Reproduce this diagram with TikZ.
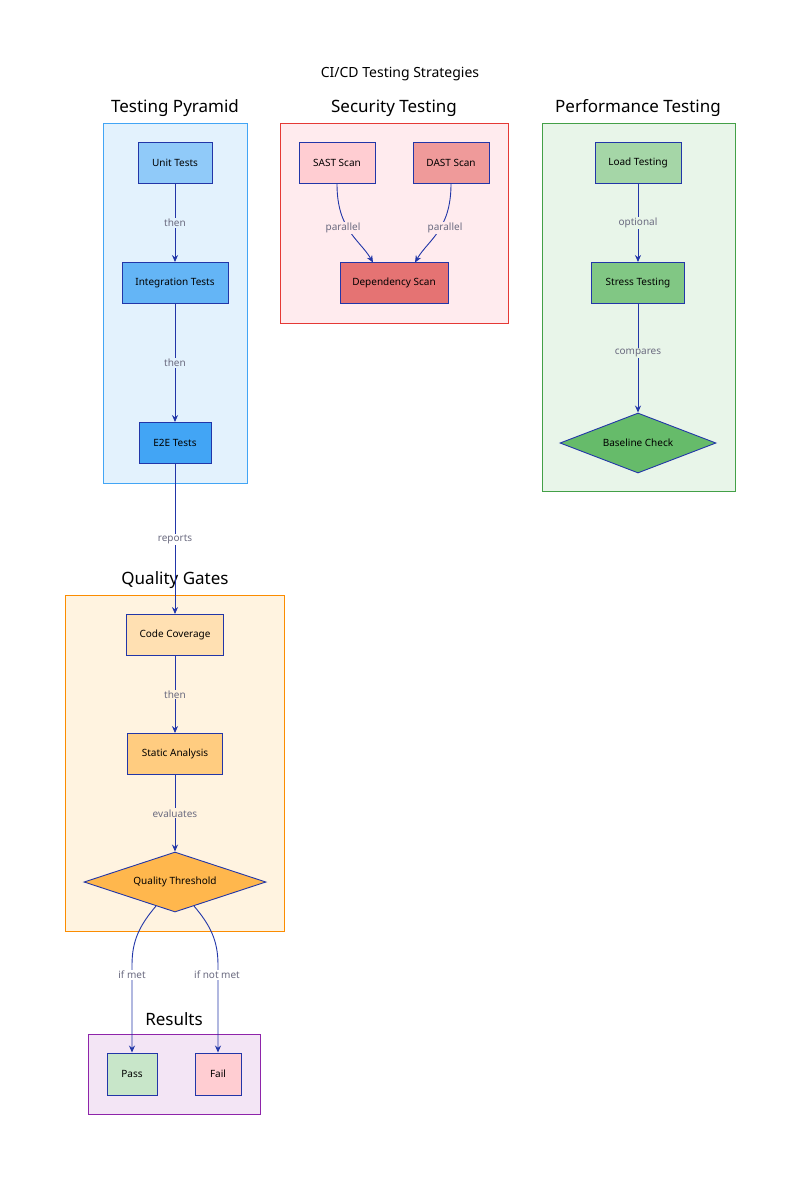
\documentclass[tikz,border=0pt]{standalone}
\usepackage{fontspec}
\setmainfont{Noto Sans}
\usetikzlibrary{shapes.geometric,arrows.meta}
\definecolor{edge}{HTML}{2236A8}
\definecolor{lbl}{HTML}{6B6B80}
\tikzset{
 x=1pt,y=-1pt,
 box/.style={draw=edge,line width=0.9pt,minimum height=41pt,inner sep=0pt,font=\fontsize{10}{12}\selectfont},
 dia/.style={draw=edge,line width=0.9pt,diamond,aspect=3,inner sep=0pt,font=\fontsize{10}{12}\selectfont},
 clu/.style={line width=0.9pt},
 ctitle/.style={font=\fontsize{17}{20}\selectfont},
 conn/.style={draw=edge,line width=0.9pt,-{Stealth[length=7pt,width=6pt]}},
 elab/.style={text=lbl,font=\fontsize{10}{12}\selectfont,inner sep=1pt},
}
\begin{document}
\begin{tikzpicture}
\useasboundingbox[fill=white] (0,0) rectangle (800,1179);
\node[font=\fontsize{14}{16}\selectfont] (title) at (400,74) {CI/CD Testing Strategies};
% clusters
\draw[clu,fill={rgb,255:red,227;green,242;blue,253},draw={rgb,255:red,66;green,165;blue,245}] (103,123) rectangle (247,483);
\node[ctitle] (t1) at (175,108) {Testing Pyramid};
\draw[clu,fill={rgb,255:red,255;green,235;blue,238},draw={rgb,255:red,229;green,57;blue,53}] (280,123) rectangle (508,323);
\node[ctitle] (t2) at (394,108) {Security Testing};
\draw[clu,fill={rgb,255:red,232;green,245;blue,233},draw={rgb,255:red,67;green,160;blue,71}] (542,123) rectangle (735,491);
\node[ctitle] (t3) at (638,108) {Performance Testing};
\draw[clu,fill={rgb,255:red,255;green,243;blue,224},draw={rgb,255:red,251;green,140;blue,0}] (65,595) rectangle (284,931);
\node[ctitle] (t4) at (175,580) {Quality Gates};
\draw[clu,fill={rgb,255:red,243;green,229;blue,245},draw={rgb,255:red,142;green,36;blue,170}] (88,1034) rectangle (260,1114);
\node[ctitle] (t5) at (174,1019) {Results};
% nodes
\node[box,fill={rgb,255:red,144;green,202;blue,249},minimum width=74pt] (unit) at (175,163) {Unit Tests};
\node[box,fill={rgb,255:red,100;green,181;blue,246},minimum width=106pt] (integ) at (175,283) {Integration Tests};
\node[box,fill={rgb,255:red,66;green,165;blue,245},minimum width=72pt] (e2e) at (175,443) {E2E Tests};
\node[box,fill={rgb,255:red,255;green,205;blue,210},minimum width=76pt] (sast) at (337,163) {SAST Scan};
\node[box,fill={rgb,255:red,239;green,154;blue,154},minimum width=76pt] (dast) at (451,163) {DAST Scan};
\node[box,fill={rgb,255:red,229;green,115;blue,115},minimum width=108pt] (dep) at (394,283) {Dependency Scan};
\node[box,fill={rgb,255:red,165;green,214;blue,167},minimum width=86pt] (load) at (638,163) {Load Testing};
\node[box,fill={rgb,255:red,129;green,199;blue,132},minimum width=93pt] (stress) at (638,283) {Stress Testing};
\node[dia,fill={rgb,255:red,102;green,187;blue,106},minimum width=156pt,minimum height=60pt] (base) at (638,443) {Baseline Check};
\node[box,fill={rgb,255:red,255;green,224;blue,178},minimum width=97pt] (cov) at (175,635) {Code Coverage};
\node[box,fill={rgb,255:red,255;green,204;blue,128},minimum width=95pt] (stat) at (175,754) {Static Analysis};
\node[dia,fill={rgb,255:red,255;green,183;blue,77},minimum width=182pt,minimum height=60pt] (qt) at (175,882) {Quality Threshold};
\node[box,fill={rgb,255:red,200;green,230;blue,201},minimum width=50pt,minimum height=42pt] (pass) at (132,1074) {Pass};
\node[box,fill={rgb,255:red,255;green,205;blue,210},minimum width=46pt,minimum height=42pt] (fail) at (218,1074) {Fail};
% edges
\draw[conn] (unit) -- (integ) node[elab,midway,fill={rgb,255:red,227;green,242;blue,253}] {then};
\draw[conn] (integ) -- (e2e) node[elab,midway,fill={rgb,255:red,227;green,242;blue,253}] {then};
\draw[conn] (e2e) -- (cov) node[elab,pos=0.5,fill=white] {reports};
\draw[conn] (sast.south) .. controls (337,230) and (360,240) .. (373,262.5);
\node[elab,fill={rgb,255:red,255;green,235;blue,238}] (lp1) at (343,228) {parallel};
\draw[conn] (dast.south) .. controls (451,230) and (428,240) .. (415,262.5);
\node[elab,fill={rgb,255:red,255;green,235;blue,238}] (lp2) at (445,228) {parallel};
\draw[conn] (load) -- (stress) node[elab,midway,fill={rgb,255:red,232;green,245;blue,233}] {optional};
\draw[conn] (stress) -- (base) node[elab,pos=0.45,fill={rgb,255:red,232;green,245;blue,233}] {compares};
\draw[conn] (cov) -- (stat) node[elab,midway,fill={rgb,255:red,255;green,243;blue,224}] {then};
\draw[conn] (stat) -- (qt) node[elab,pos=0.5,fill={rgb,255:red,255;green,243;blue,224}] {evaluates};
\draw[conn] (156,906) .. controls (140,925) and (132,940) .. (132,965) -- (pass.north);
\node[elab,fill=white] (lm) at (132,975) {if met};
\draw[conn] (194,906) .. controls (210,925) and (218,940) .. (218,965) -- (fail.north);
\node[elab,fill=white] (lnm) at (217,975) {if not met};
\end{tikzpicture}
\end{document}
